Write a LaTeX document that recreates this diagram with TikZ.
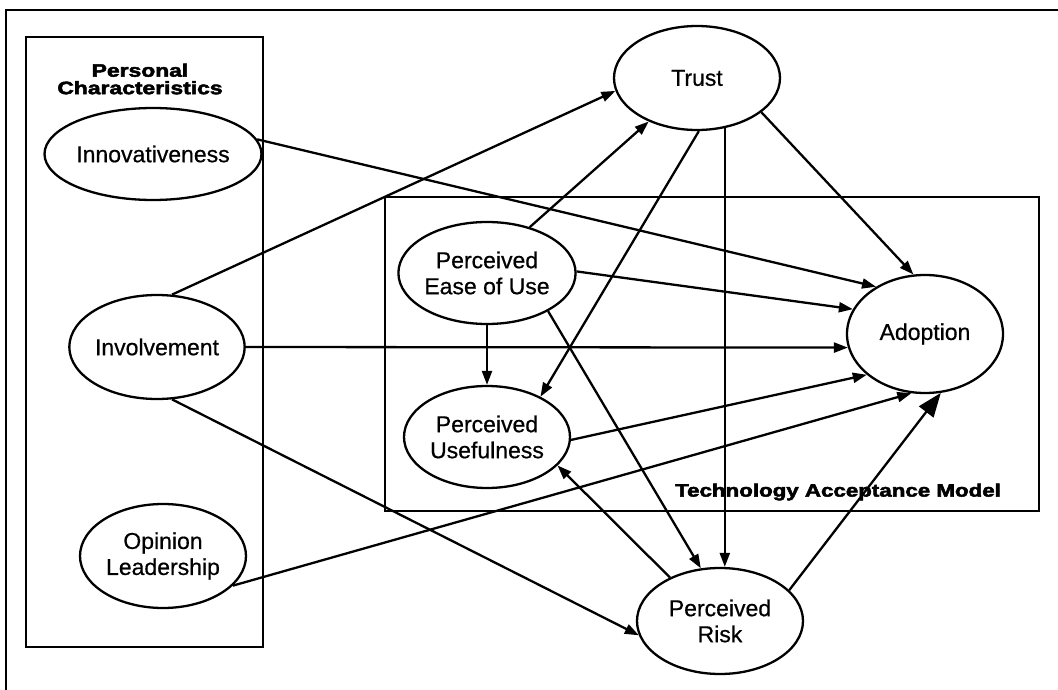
\documentclass[tikz,border=0pt]{standalone}
\usepackage{fontspec}
\setmainfont{Liberation Sans}[RawFeature={embolden=0.6}]
\newfontfamily\heavyfont{Liberation Sans Bold}[RawFeature={embolden=2.5}]
\usetikzlibrary{arrows.meta,shapes.geometric}

\begin{document}
\begin{tikzpicture}[x=1pt,y=-1pt,
  line width=2.3pt,
  construct/.style={draw, ellipse, inner sep=0pt, align=center,
    font=\fontsize{23}{26}\selectfont},
  link/.style={-{Triangle[length=14pt,width=10pt]}},
  biglink/.style={-{Triangle[length=24pt,width=18pt]}},
  heading/.style={inner sep=0pt, align=center,
    font=\heavyfont\fontsize{18}{17.5}\selectfont}
]
\useasboundingbox (0,0) rectangle (1058,690);
\clip (0,0) rectangle (1058,690);

% outer frame (runs off the page on the right and bottom)
\draw (1080,10) -- (6,10) -- (6,710);

% grouping boxes
\draw (26,37) rectangle (263,647);
\draw (385,197) rectangle (1039,511);

\node[heading] (pclabel) at (140,79)
  {\scalebox{1.27}[1]{Personal}\\\scalebox{1.27}[1]{Characteristics}};
\node[heading] (tamlabel) at (838,492)
  {\scalebox{1.24}[1]{Technology Acceptance Model}};

% constructs
\node[construct, minimum width=186pt, minimum height=92pt]  (innov)   at (153,154) {Innovativeness};
\node[construct, minimum width=168pt, minimum height=104pt] (inv)     at (157,347) {Involvement};
\node[construct, minimum width=166pt, minimum height=104pt] (opinion) at (163,556) {Opinion\\Leadership};
\node[construct, minimum width=166pt, minimum height=104pt] (trust)   at (697,78)  {Trust};
\node[construct, minimum width=166pt, minimum height=102pt] (peou)    at (487,273) {Perceived\\Ease of Use};
\node[construct, minimum width=166pt, minimum height=102pt] (pu)      at (487,437) {Perceived\\Usefulness};
\node[construct, minimum width=166pt, minimum height=106pt] (pr)      at (720,621) {Perceived\\Risk};
\node[construct, minimum width=156pt, minimum height=118pt] (adopt)   at (925,334) {Adoption};

% paths
\draw[link] (innov.8) -- (adopt.136);
\draw[link] (inv.74) -- (trust.189);
\draw[link] (inv.east) -- (adopt.190);
\draw[link] (inv.286) -- (pr.190);
\draw[link] (opinion.337) -- (adopt.257);
\draw[link] (peou.47) -- (trust.222);
\draw[link] (peou.1) -- (adopt.161);
\draw[link] (peou.south) -- (pu.north);
\draw[link] (peou.328) -- (pr.110);
\draw[link] (trust.272) -- (pu.37);
\draw[link] (trust.299) -- (trust.299 |- pr.north);
\draw[link] (trust.332) -- (adopt.101);
\draw[link] (pu.358) -- (adopt.215);
\draw[link] (pr.139) -- (pu.338);
\draw[biglink] (pr.24) -- (adopt.285);
\end{tikzpicture}
\end{document}
